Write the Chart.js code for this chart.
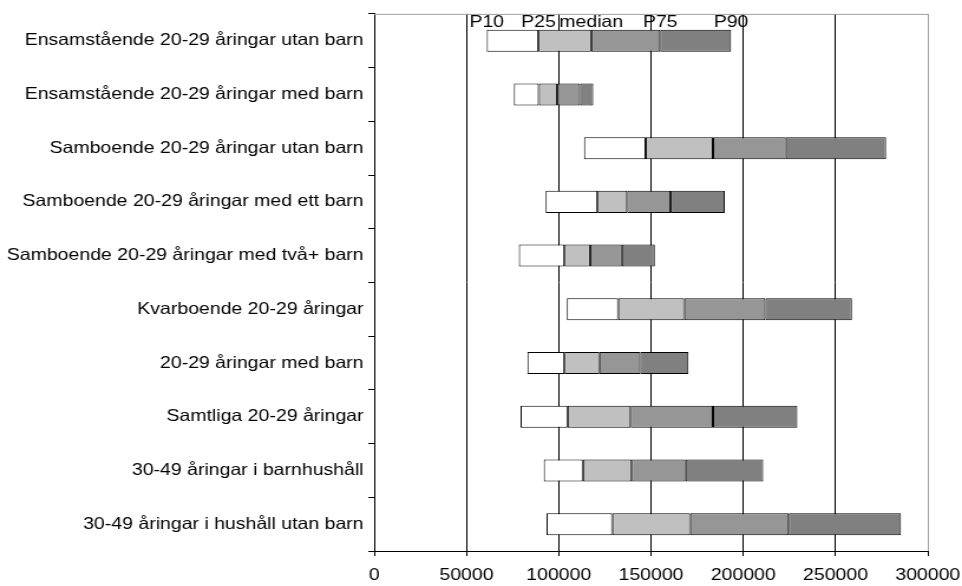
<!DOCTYPE html>
<html>
<head>
<meta charset="utf-8">
<script src="https://cdn.jsdelivr.net/npm/chart.js@4.4.1/dist/chart.umd.min.js"></script>
<style>
    html, body { margin: 0; padding: 0; background: #fff; overflow: hidden; }
    /* the reference is stretched sideways, so draw narrow and widen it */
    #wrap { width: 815px; height: 586px; transform: scaleX(1.1804); transform-origin: 0 0; }
</style>
</head>
<body>
<div id="wrap"><canvas id="chart" width="815" height="586"></canvas></div>
<script>
        // Data
        const categories = [
            'Ensamstående 20-29 åringar utan barn',
            'Ensamstående 20-29 åringar med barn',
            'Samboende 20-29 åringar utan barn',
            'Samboende 20-29 åringar med ett barn',
            'Samboende 20-29 åringar med två+ barn',
            'Kvarboende 20-29 åringar',
            '20-29 åringar med barn',
            'Samtliga 20-29 åringar',
            '30-49 åringar i barnhushåll',
            '30-49 åringar i hushåll utan barn'
        ];
        const p10 = [61000, 75700, 113700, 92900, 78400, 104400, 83000, 79300, 91900, 93400];
        const p25 = [89000, 89200, 147100, 121000, 103100, 132200, 103100, 104800, 113100, 129000];
        const median = [117600, 99200, 183600, 137100, 117000, 168000, 122000, 139000, 139600, 171200];
        const p75 = [155000, 111600, 223000, 160600, 134200, 212000, 144200, 183600, 168700, 224700];
        const p90 = [193400, 118700, 277400, 190000, 152100, 258900, 170300, 229300, 210800, 285500];
        const headerLabels = ['P10', 'P25', 'median', 'P75', 'P90'];
        const xTicks = [0, 50000, 100000, 150000, 200000, 250000, 300000];

        const FONT = '"Liberation Sans", Arial, sans-serif';
        const FONT_SIZE = 16.5;

        // Build floating segments between percentiles
        const bounds = [p10, p25, median, p75, p90];
        const fills = ['#ffffff', '#c0c0c0', '#969696', '#808080'];
        const datasets = fills.map((color, k) => ({
            label: headerLabels[k] + '-' + headerLabels[k + 1],
            data: categories.map((c, i) => [bounds[k][i], bounds[k + 1][i]]),
            backgroundColor: color,
            borderColor: '#000',
            borderWidth: 1,
            borderSkipped: false,
            grouped: false,
            barPercentage: 0.41,
            categoryPercentage: 1
        }));

        // Header labels over the first row + grey frame on top/right
        const headerPlugin = {
            id: 'headerPlugin',
            afterDatasetsDraw(chart) {
                const { ctx, chartArea, scales } = chart;
                ctx.save();
                ctx.strokeStyle = '#a0a0a0';
                ctx.lineWidth = 1;
                ctx.beginPath();
                ctx.moveTo(chartArea.left, chartArea.top + 0.5);
                ctx.lineTo(chartArea.right + 0.5, chartArea.top + 0.5);
                ctx.lineTo(chartArea.right + 0.5, chartArea.bottom);
                ctx.stroke();

                ctx.fillStyle = '#000';
                ctx.font = FONT_SIZE + 'px ' + FONT;
                ctx.textAlign = 'center';
                ctx.textBaseline = 'alphabetic';
                headerLabels.forEach((txt, k) => {
                    const x = scales.x.getPixelForValue(bounds[k][0]);
                    ctx.fillText(txt, x, chartArea.top + 13);
                });
                ctx.restore();
            }
        };

        new Chart(document.getElementById('chart'), {
            type: 'bar',
            data: { labels: categories, datasets: datasets },
            options: {
                indexAxis: 'y',
                responsive: false,
                animation: false,
                layout: { padding: { top: 12, right: 29, bottom: 0, left: 0 } },
                plugins: {
                    legend: { display: false },
                    tooltip: { enabled: false }
                },
                scales: {
                    x: {
                        min: 0,
                        max: 300000,
                        afterBuildTicks: (scale) => { scale.ticks = xTicks.map(v => ({ value: v })); },
                        afterFit: (scale) => {
                            scale.height = 35;
                            scale.paddingLeft = 0;
                            scale.paddingRight = 0;
                        },
                        grid: {
                            color: (ctx) => (ctx.tick && ctx.tick.value === 300000) ? '#b0b0b0' : '#000',
                            lineWidth: 1,
                            tickLength: 5,
                            tickColor: '#000'
                        },
                        border: { color: '#000', width: 1 },
                        ticks: {
                            color: '#000',
                            padding: 10,
                            maxRotation: 0,
                            font: { family: FONT, size: FONT_SIZE },
                            callback: (v) => String(v)
                        }
                    },
                    y: {
                        afterFit: (scale) => { scale.width = 317; },
                        grid: {
                            offset: true,
                            drawOnChartArea: false,
                            tickLength: 5,
                            color: '#000'
                        },
                        border: { color: '#000', width: 1 },
                        ticks: {
                            color: '#000',
                            padding: 4,
                            autoSkip: false,
                            font: { family: FONT, size: FONT_SIZE }
                        }
                    }
                }
            },
            plugins: [headerPlugin]
        });
</script>
</body>
</html>
